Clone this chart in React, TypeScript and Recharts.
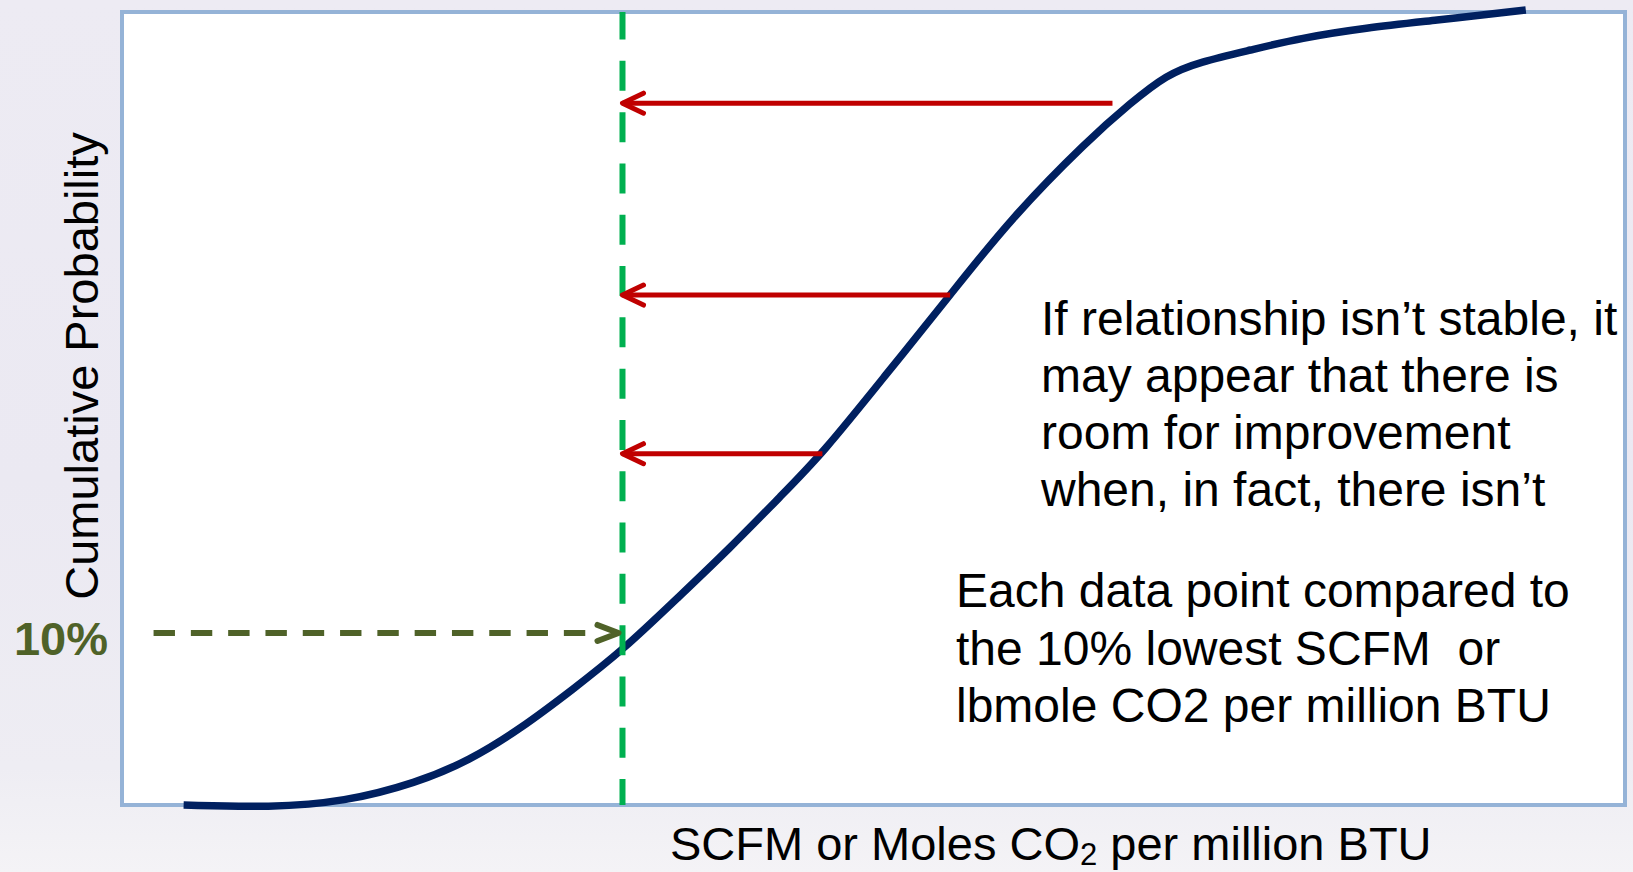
import React from 'react';
import { ComposedChart, Line, XAxis, YAxis, ReferenceArea, ReferenceLine } from 'recharts';

// ---- data (schematic units: x = 0..100 across the frame, y = cumulative % 0..100) ----
const curveX = [4.1, 9.9, 14.8, 19.6, 23.1, 26.5, 30.0, 33.3, 36.9, 40.4, 43.9, 46.6, 50.8, 55.1, 59.1, 64.3, 67.1, 69.5, 71.7, 75.1, 78.4, 82.8, 87.2, 93.4];
const curveY = [0, -0.3, 0.4, 2.8, 5.6, 9.6, 14.6, 19.5, 26.0, 32.3, 39.1, 44.3, 54.2, 64.3, 73.9, 83.9, 88.5, 92.1, 93.7, 95.2, 96.7, 98.0, 98.9, 100.25];
const thresholdX = 33.3;
const arrowLevels = [88.5, 64.3, 44.3];
const arrowFromX = [65.9, 55.1, 46.6];
const tenPctLevel = 21.7;
const tenPctFromX = 2.1;
const tenPctLabel = '10%';
const yAxisTitle = 'Cumulative Probability';
const xAxisTitleParts = ['SCFM or Moles CO', '2', ' per million BTU'];
const noteLines1 = ['If relationship isn\u2019t stable, it', 'may appear that there is', 'room for improvement', 'when, in fact, there isn\u2019t'];
const noteLines2 = ['Each data point compared to', 'the 10% lowest SCFM  or', 'lbmole CO2 per million BTU'];

const data = curveX.map((x, i) => ({ x, y: curveY[i] }));

const FONT = '"Liberation Sans", Arial, Helvetica, sans-serif';

const makeArrow = (color: string, width: number, headLen: number, headHalf: number, tipGap: number, lineGap: number, dash?: string) =>
  (props: any) => {
    const { x1, y1, x2 } = props;
    const dir = x2 < x1 ? -1 : 1;
    const tip = x2 - dir * tipGap;
    const lineEnd = tip - dir * lineGap;
    return (
      <g>
        <line x1={x1} y1={y1} x2={lineEnd} y2={y1} stroke={color} strokeWidth={width} strokeDasharray={dash} />
        <polyline
          points={`${tip - dir * headLen},${y1 - headHalf} ${tip},${y1} ${tip - dir * headLen},${y1 + headHalf}`}
          fill="none"
          stroke={color}
          strokeWidth={width}
          strokeLinecap="round"
          strokeLinejoin="round"
        />
      </g>
    );
  };

const redArrow = makeArrow('#c00000', 5, 21, 10, 0, 0);
const oliveArrow = makeArrow('#4f6228', 6, 21, 8, 4, 26, '21.4 15.9');

const TenTick = (props: any) => {
  const { y } = props;
  return (
    <text x={108} y={y + 22} textAnchor="end" fontFamily={FONT} fontSize={47} fontWeight="bold" fill="#4f6228">
      {tenPctLabel}
    </text>
  );
};

const YTitle = () => (
  <text transform="translate(98,366) rotate(-90)" textAnchor="middle" fontFamily={FONT} fontSize={47} fill="#000">
    {yAxisTitle}
  </text>
);

const XTitle = () => (
  <text x={670} y={860} fontFamily={FONT} fontSize={47} fill="#000">
    <tspan>{xAxisTitleParts[0]}</tspan>
    <tspan dy={5} fontSize={31}>{xAxisTitleParts[1]}</tspan>
    <tspan dy={-5}>{xAxisTitleParts[2]}</tspan>
  </text>
);

export default function App() {
  return (
    <div
      style={{
        position: 'absolute',
        left: 0,
        top: 0,
        width: 1633,
        height: 872,
        overflow: 'hidden',
        background: 'linear-gradient(180deg, #edebf3 0%, #ebe9f2 55%, #eeedf3 88%, #f4f3f6 100%)',
      }}
    >
      <ComposedChart width={1633} height={872} data={data} margin={{ top: 4, right: 8, bottom: 0, left: 0 }}>
        <XAxis
          dataKey="x"
          type="number"
          domain={[0, 100]}
          height={59}
          axisLine={false}
          tickLine={false}
          tick={false}
          label={{ content: <XTitle /> }}
        />
        <YAxis
          type="number"
          domain={[-1, 101]}
          width={122}
          axisLine={false}
          tickLine={false}
          ticks={[tenPctLevel]}
          tick={<TenTick />}
          label={{ content: <YTitle /> }}
        />
        <ReferenceArea x1={0} x2={100} y1={0} y2={100} fill="#ffffff" fillOpacity={1} stroke="#95b3d7" strokeWidth={4} />
        <Line
          dataKey="y"
          type="basis"
          stroke="#002060"
          strokeWidth={7.5}
          dot={false}
          activeDot={false}
          isAnimationActive={false}
        />
        <ReferenceLine
          segment={[{ x: thresholdX, y: 0 }, { x: thresholdX, y: 100 }]}
          stroke="#00b050"
          strokeWidth={6}
          strokeDasharray="30 21.3"
          strokeDashoffset={4}
        />
        {arrowLevels.map((lv, i) => (
          <ReferenceLine
            key={i}
            segment={[{ x: arrowFromX[i], y: lv }, { x: thresholdX, y: lv }]}
            stroke="#c00000"
            shape={redArrow}
          />
        ))}
        <ReferenceLine
          segment={[{ x: tenPctFromX, y: tenPctLevel }, { x: thresholdX, y: tenPctLevel }]}
          stroke="#4f6228"
          shape={oliveArrow}
        />
      </ComposedChart>
      <svg width={1633} height={872} style={{ position: 'absolute', left: 0, top: 0, pointerEvents: 'none' }}>
        {noteLines1.map((t, i) => (
          <text key={i} x={1041} y={335 + i * 57} fontFamily={FONT} fontSize={48} fill="#000">
            {t}
          </text>
        ))}
        {noteLines2.map((t, i) => (
          <text key={i} x={956} y={607 + i * 57.5} fontFamily={FONT} fontSize={48} fill="#000" style={{ whiteSpace: 'pre' }}>
            {t}
          </text>
        ))}
      </svg>
    </div>
  );
}
